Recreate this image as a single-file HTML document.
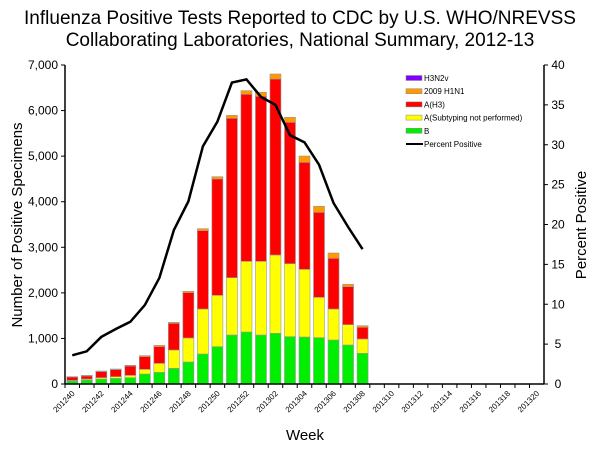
<!DOCTYPE html>
<html><head><meta charset="utf-8"><style>
body{margin:0;background:#fff;}
svg text{font-family:"Liberation Sans",Arial,sans-serif;}
</style></head><body>
<svg id="c" width="600" height="450" xmlns="http://www.w3.org/2000/svg">
<text x="300" y="24" font-size="19" text-anchor="middle">Influenza Positive Tests Reported to CDC by U.S. WHO/NREVSS</text>
<text x="300" y="46" font-size="19" text-anchor="middle">Collaborating Laboratories, National Summary, 2012-13</text>
<text transform="translate(22,225) rotate(-90)" font-size="15" text-anchor="middle">Number of Positive Specimens</text>
<text transform="translate(586,225) rotate(-90)" font-size="15" text-anchor="middle">Percent Positive</text>
<text x="305" y="440" font-size="15" text-anchor="middle">Week</text>
<g id="g"></g>
</svg>
<script>
const weeks=["201240","201241","201242","201243","201244","201245","201246","201247","201248","201249","201250","201251","201252","201301","201302","201303","201304","201305","201306","201307","201308","201309","201310","201311","201312","201313","201314","201315","201316","201317","201318","201319","201320"];
const bVals=[66,88,110,124,139,219,256,344,483,658,819,1075,1141,1075,1112,1039,1031,1017,966,856,673];
const aNotVals=[14,22,29,37,51,103,197,402,527,988,1127,1258,1551,1617,1719,1602,1485,885,680,446,315];
const h3Vals=[74,66,132,154,205,278,366,585,994,1719,2554,3497,3665,3621,3862,3101,2348,1865,1112,834,256];
const h1n1Vals=[7,14,14,14,15,22,29,22,30,44,49,66,80,88,110,110,139,132,117,51,36];
const h3n2vVals=[0,0,0,0,0,0,0,0,0,0,0,0,0,0,0,0,0,0,0,0,0];
const pctVals=[3.6,4.1,5.9,6.9,7.8,9.9,13.3,19.3,22.9,29.8,32.9,37.8,38.2,36.0,35.0,31.2,30.3,27.5,22.7,19.7,16.9];
const leftTicks=[0,1000,2000,3000,4000,5000,6000,7000];
const rightTicks=[0,5,10,15,20,25,30,35,40];
const X0=65,X1=544,Y0=384,Y1=65;
const cw=(X1-X0)/weeks.length;
const y=v=>Y0-(v/7000)*(Y0-Y1);
const y2=v=>Y0-(v/40)*(Y0-Y1);
const xc=i=>X0+(i+0.5)*cw;
const g=document.getElementById('g');
const NS="http://www.w3.org/2000/svg";
function mk(t,a){const e=document.createElementNS(NS,t);for(const k in a)e.setAttribute(k,a[k]);g.appendChild(e);return e;}
// bars
const series=[[bVals,'#00ee00','b'],[aNotVals,'#ffff00','a-not-subtyped'],[h3Vals,'#ff0000','a-h3'],[h1n1Vals,'#ff9900','h1n1-2009'],[h3n2vVals,'#7f00ff','h3n2v']];
bVals.forEach((_,i)=>{let cum=0;series.forEach(s=>{const v=s[0][i];if(v<=0)return;const r=mk('rect',{x:xc(i)-5.5,y:y(cum+v),width:11,height:y(cum)-y(cum+v),fill:s[1],stroke:'#999','stroke-width':0.6});


cum+=v;});});
// axes
let a=mk('line',{x1:X0,y1:Y1,x2:X0,y2:Y0,stroke:'#000','stroke-width':1.5});


a=mk('line',{x1:X1,y1:Y1,x2:X1,y2:Y0,stroke:'#000','stroke-width':1.5});


a=mk('line',{x1:X0,y1:Y0,x2:X1,y2:Y0,stroke:'#000','stroke-width':1.5});


leftTicks.forEach(v=>{mk('line',{x1:X0-4,y1:y(v),x2:X0,y2:y(v),stroke:'#000'});const t=mk('text',{x:X0-7,y:y(v)+4,'font-size':12,'text-anchor':'end'});t.textContent=v.toLocaleString('en-US');

});
rightTicks.forEach(v=>{mk('line',{x1:X1,y1:y2(v),x2:X1+4,y2:y2(v),stroke:'#000'});const t=mk('text',{x:X1+14,y:y2(v)+4,'font-size':12,'text-anchor':'middle'});t.textContent=v;

});
weeks.forEach((w,i)=>{const xx=X0+i*cw;mk('line',{x1:xx,y1:Y0,x2:xx,y2:Y0+4,stroke:'#000'});if(i%2===0){const t=mk('text',{transform:`translate(${xc(i)+3},${Y0+10}) rotate(-45)`,'font-size':8,'text-anchor':'end'});t.textContent=w;

}});
// line
const l=mk('polyline',{points:pctVals.map((v,i)=>xc(i)+','+y2(v)).join(' '),fill:'none',stroke:'#000','stroke-width':2.5});


// legend
const leg=[['H3N2v','#7f00ff'],['2009 H1N1','#ff9900'],['A(H3)','#ff0000'],['A(Subtyping not performed)','#ffff00'],['B','#00ee00'],['Percent Positive',null]];
leg.forEach((e,i)=>{const yy=78+i*13.2;let s;if(e[1])s=mk('rect',{x:406,y:yy-2.5,width:16,height:5,fill:e[1],stroke:'#888','stroke-width':0.5});else s=mk('line',{x1:406,y1:yy,x2:423,y2:yy,stroke:'#000','stroke-width':2});


const t=mk('text',{x:424,y:yy+3,'font-size':8});t.textContent=e[0];

});
</script>
</body></html>
